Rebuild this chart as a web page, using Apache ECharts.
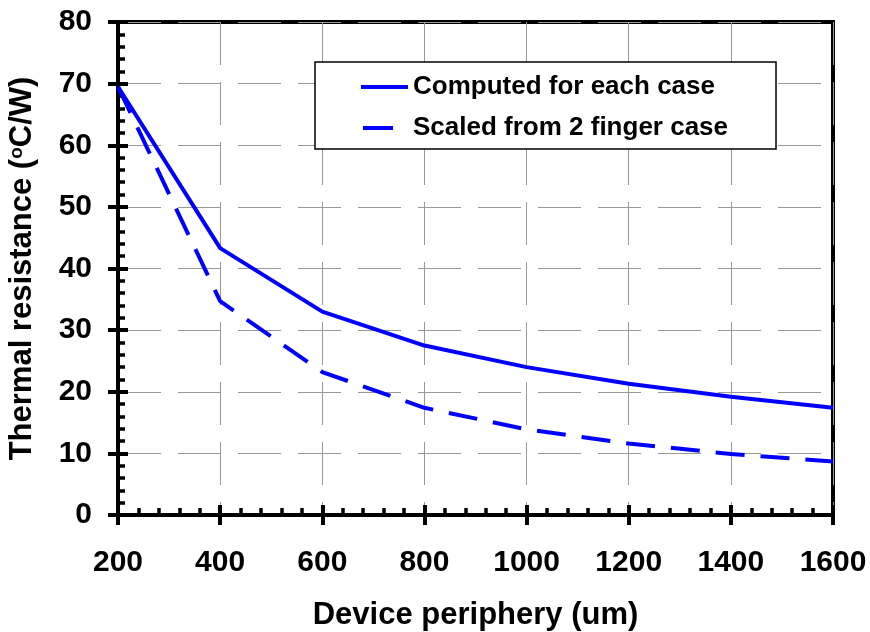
<!DOCTYPE html>
<html><head><meta charset="utf-8">
<script src="https://cdn.jsdelivr.net/npm/echarts@6/dist/echarts.min.js"></script>
<style>html,body{margin:0;padding:0;background:#fff}#c{width:870px;height:632px}</style>
</head><body><div id="c"></div>
<script>
var periphery = [200, 400, 600, 800, 1000, 1200, 1400, 1600];
var computed = [69.5, 43.3, 33.0, 27.5, 24.0, 21.3, 19.2, 17.4];
var scaled = [69.5, 34.7, 23.2, 17.4, 13.9, 11.6, 9.9, 8.7];
var seriesNames = ['Computed for each case', 'Scaled from 2 finger case'];
var xTitle = 'Device periphery (um)';

var FONT = 'Liberation Sans, Arial, sans-serif';
var chart = echarts.init(document.getElementById('c'));
function pairs(xs, ys){ return xs.map(function(x,i){return [x, ys[i]];}); }
var gridLine = {show:true, lineStyle:{color:'#999', width:1, type:[43,17]}};
var xBase = {type:'value', min:200, max:1600, interval:200, gridIndex:0, position:'bottom'};
var yBase = {type:'value', min:0, max:80, interval:10, gridIndex:0, position:'left'};
chart.setOption({
  animation:false,
  backgroundColor:'#fff',
  grid:{left:118, right:37, top:22, bottom:117, show:true, borderColor:'#000', borderWidth:4,
        backgroundColor:'transparent', containLabel:false, outerBoundsMode:'none'},
  legend:{
    left:315, top:62, orient:'vertical', itemWidth:47, itemHeight:14, itemGap:15,
    padding:[12,48,8,44], borderColor:'#000', borderWidth:1.5, backgroundColor:'#fff',
    itemStyle:{opacity:0},
    textStyle:{fontFamily:FONT, fontWeight:'bold', fontSize:26, color:'#000'},
    data:[
      {name:seriesNames[0], lineStyle:{width:4}},
      {name:seriesNames[1], lineStyle:{width:4, type:[30,40], dashOffset:-2}}
    ]
  },
  xAxis:[
    Object.assign({}, xBase, {
      axisLine:{show:true, lineStyle:{color:'#000', width:4}},
      axisTick:{show:true, inside:false, length:10, lineStyle:{color:'#000', width:4}},
      axisLabel:{show:true, margin:33, fontFamily:FONT, fontWeight:'bold', fontSize:30, color:'#000',
                 formatter:function(v){return String(v);}},
      splitLine:gridLine,
      name:xTitle, nameLocation:'middle', nameGap:85,
      nameTextStyle:{fontFamily:FONT, fontWeight:'bold', fontSize:31, color:'#000'}
    }),
    Object.assign({}, xBase, {
      axisLine:{show:false},
      axisTick:{show:true, inside:true, length:10, lineStyle:{color:'#000', width:4}},
      minorTick:{show:true, splitNumber:5, length:7, lineStyle:{color:'#000', width:3.5}},
      axisLabel:{show:false}, splitLine:{show:false}
    })
  ],
  yAxis:[
    Object.assign({}, yBase, {
      axisLine:{show:true, lineStyle:{color:'#000', width:4}},
      axisTick:{show:true, inside:false, length:10, lineStyle:{color:'#000', width:4}},
      axisLabel:{show:true, margin:26, fontFamily:FONT, fontWeight:'bold', fontSize:30, color:'#000',
                 padding:[3,0,0,0]},
      splitLine:gridLine,
      name:'{t|Thermal resistance (}{s|o}{t|C/W)}', nameLocation:'middle', nameGap:80, nameRotate:90,
      nameTextStyle:{rich:{
        t:{fontFamily:FONT, fontWeight:'bold', fontSize:31, color:'#000'},
        s:{fontFamily:FONT, fontWeight:'bold', fontSize:19, color:'#000', verticalAlign:'top', padding:[0,0,12,0]}
      }}
    }),
    Object.assign({}, yBase, {
      axisLine:{show:false},
      axisTick:{show:true, inside:true, length:10, lineStyle:{color:'#000', width:4}},
      minorTick:{show:true, splitNumber:5, length:7, lineStyle:{color:'#000', width:3.5}},
      axisLabel:{show:false}, splitLine:{show:false}
    })
  ],
  series:[
    {name:seriesNames[0], type:'line', xAxisIndex:0, yAxisIndex:0, symbol:'none', data:pairs(periphery, computed),
     lineStyle:{color:'#0000ff', width:4}, itemStyle:{color:'#0000ff'}, z:5},
    {name:seriesNames[1], type:'line', xAxisIndex:0, yAxisIndex:0, symbol:'none', data:pairs(periphery, scaled),
     lineStyle:{color:'#0000ff', width:4, type:[29,16]}, itemStyle:{color:'#0000ff'}, z:5}
  ]
});
</script></body></html>
